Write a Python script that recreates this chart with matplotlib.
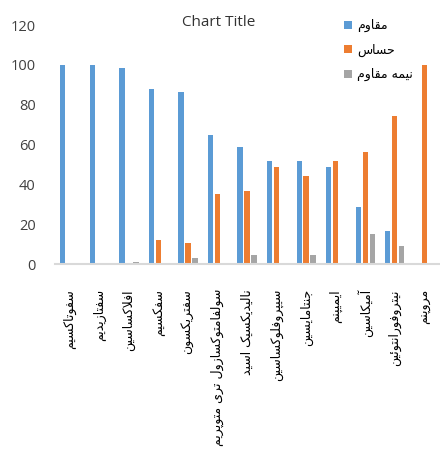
import matplotlib
matplotlib.use("Agg")
import matplotlib.pyplot as plt
import numpy as np

# antibiotics (persian labels) and percentages
drugs = ["سفوتاکسیم", "سفتازیدیم", "افلاکساسین", "سفکسیم", "سفتریکسون",
         "سولفامتوکسازول تری متوپریم", "نالیدیکسیک اسید", "سیپروفلوکساسین",
         "جنتامایسین", "ایمیپنم", "آمیکاسین", "نیتروفورانتوئین", "مروپنم"]
resistant = [100, 100, 98.5, 88, 86.5, 65, 59, 51.5, 51.5, 48.5, 28.5, 16.5, 0]
sensitive = [0, 0, 0, 12, 10.5, 35, 36.5, 48.5, 44, 51.5, 56.5, 74.5, 100]
intermediate = [0, 0, 1.2, 0, 3, 0, 4.5, 0, 4.5, 0, 15, 9, 0]
series_names = ["مقاوم", "حساس", "نیمه مقاوم"]
yticks = [0, 20, 40, 60, 80, 100, 120]

# matplotlib has no arabic shaping, so pick presentation forms by hand
# (isolated, final, initial, medial)
FORMS = {
    'ا': ('\uFE8D', '\uFE8E', None, None),
    'آ': ('\uFE81', '\uFE82', None, None),
    'ب': ('\uFE8F', '\uFE90', '\uFE91', '\uFE92'),
    'پ': ('\uFB56', '\uFB57', '\uFB58', '\uFB59'),
    'ت': ('\uFE95', '\uFE96', '\uFE97', '\uFE98'),
    'ج': ('\uFE9D', '\uFE9E', '\uFE9F', '\uFEA0'),
    'ح': ('\uFEA1', '\uFEA2', '\uFEA3', '\uFEA4'),
    'د': ('\uFEA9', '\uFEAA', None, None),
    'ر': ('\uFEAD', '\uFEAE', None, None),
    'ز': ('\uFEAF', '\uFEB0', None, None),
    'س': ('\uFEB1', '\uFEB2', '\uFEB3', '\uFEB4'),
    'ف': ('\uFED1', '\uFED2', '\uFED3', '\uFED4'),
    'ق': ('\uFED5', '\uFED6', '\uFED7', '\uFED8'),
    'ک': ('\uFB8E', '\uFB8F', '\uFB90', '\uFB91'),
    'ل': ('\uFEDD', '\uFEDE', '\uFEDF', '\uFEE0'),
    'م': ('\uFEE1', '\uFEE2', '\uFEE3', '\uFEE4'),
    'ن': ('\uFEE5', '\uFEE6', '\uFEE7', '\uFEE8'),
    'ه': ('\uFEE9', '\uFEEA', '\uFEEB', '\uFEEC'),
    'و': ('\uFEED', '\uFEEE', None, None),
    'ی': ('\uFBFC', '\uFBFD', '\uFBFE', '\uFBFF'),
    'ئ': ('\uFE89', '\uFE8A', '\uFE8B', '\uFE8C'),
}


def shape(s):
    out = []
    i = 0
    while i < len(s):
        c = s[i]
        prev = s[i - 1] if i > 0 else ''
        nxt = s[i + 1] if i + 1 < len(s) else ''
        prev_joins = prev in FORMS and FORMS[prev][2] is not None
        if c not in FORMS:
            out.append(c)
            i += 1
            continue
        if c == 'ل' and nxt == 'ا':
            out.append('\uFEFC' if prev_joins else '\uFEFB')
            i += 2
            continue
        f = FORMS[c]
        joins_next = f[2] is not None and nxt in FORMS
        if prev_joins and joins_next:
            out.append(f[3])
        elif prev_joins:
            out.append(f[1])
        elif joins_next:
            out.append(f[2])
        else:
            out.append(f[0])
        i += 1
    return ''.join(out)[::-1]


fig = plt.figure(figsize=(4.4, 4.49), dpi=100)
ax = fig.add_axes([0.125, 0.412, 0.873, 0.532])

x = np.arange(len(drugs))
w = 0.18
step = 0.236
ax.bar(x - step, resistant, w, color='#5B9BD5', label=shape(series_names[0]))
ax.bar(x, sensitive, w, color='#ED7D31', label=shape(series_names[1]))
ax.bar(x + step, intermediate, w, color='#A5A5A5', label=shape(series_names[2]))

ax.set_xlim(-0.5, len(drugs) - 0.5)
ax.set_ylim(0, 120)
ax.set_yticks(yticks)
ax.set_yticklabels([str(v) for v in yticks], family='Open Sans', fontsize=10.5, color='#404040')
ax.set_xticks(x)
ax.set_xticklabels([shape(d) for d in drugs], rotation=90, fontsize=9, family='DejaVu Sans')
ax.tick_params(axis='y', length=0, pad=14)
ax.tick_params(axis='x', length=0, pad=18)
for s in ['top', 'right', 'left']:
    ax.spines[s].set_visible(False)
ax.spines['bottom'].set_color('#D9D9D9')
ax.spines['bottom'].set_linewidth(1.5)

fig.text(219 / 440, 1 - 22 / 449, "Chart Title", ha='center', va='center',
         fontsize=11, family='Open Sans', color='#333333')

leg = ax.legend(loc='upper left', bbox_to_anchor=(333 / 440, 1 - 8 / 449),
                bbox_transform=fig.transFigure, frameon=False,
                handlelength=0.6, handleheight=0.6, handletextpad=0.4,
                labelspacing=0.9, prop={'family': 'DejaVu Sans', 'size': 9})

fig.savefig("out.png", dpi=100)
